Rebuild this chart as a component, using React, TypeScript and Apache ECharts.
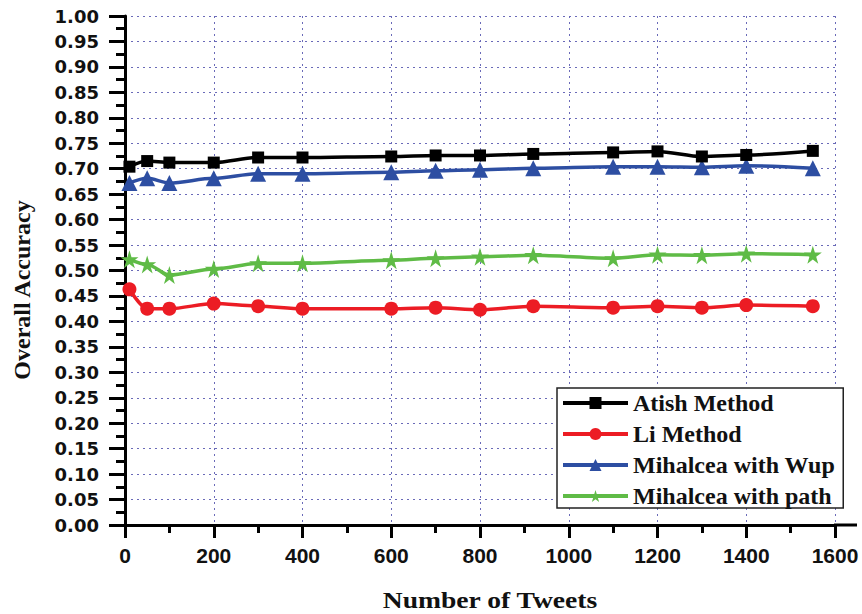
import React, { useEffect, useRef } from "react";
import * as echarts from "echarts";

const tweets = [10, 50, 100, 200, 300, 400, 600, 700, 800, 920, 1100, 1200, 1300, 1400, 1550];
const atish = [0.704, 0.715, 0.712, 0.712, 0.722, 0.722, 0.724, 0.726, 0.726, 0.729, 0.732, 0.734, 0.724, 0.727, 0.735];
const li = [0.463, 0.425, 0.425, 0.435, 0.43, 0.425, 0.425, 0.427, 0.423, 0.43, 0.427, 0.43, 0.427, 0.432, 0.43];
const wup = [0.672, 0.681, 0.672, 0.681, 0.69, 0.69, 0.693, 0.696, 0.698, 0.701, 0.704, 0.704, 0.703, 0.706, 0.701];
const path = [0.522, 0.512, 0.491, 0.503, 0.514, 0.514, 0.52, 0.524, 0.527, 0.53, 0.524, 0.531, 0.53, 0.533, 0.531];

const seriesNames = ["Atish Method", "Li Method", "Mihalcea with Wup", "Mihalcea with path"];
const seriesColors = ["#000000", "#ec1c24", "#2d4ea2", "#5fbb46"];
const seriesSymbols = ["rect", "circle", "triangle", "path://M50,0 L61,35 L98,35 L68,57 L79,92 L50,70 L21,92 L32,57 L2,35 L39,35 Z"];
const seriesSizes = [12, 14, 16, 18];
const seriesValues = [atish, li, wup, path];

const xTitle = "Number of Tweets";
const yTitle = "Overall Accuracy";

export default function App() {
  const ref = useRef<HTMLDivElement>(null);
  useEffect(() => {
    if (!ref.current) return;
    const chart = echarts.init(ref.current, null, { renderer: "svg" });
    const gridColor = "#6a6ab8";
    chart.setOption({
      animation: false,
      backgroundColor: "#ffffff",
      grid: { left: 125, right: 27, top: 16, bottom: 89, containLabel: false },
      xAxis: {
        type: "value",
        min: 0,
        max: 1600,
        interval: 200,
        axisLine: { show: true, onZero: false, lineStyle: { color: "#000", width: 3 } },
        axisTick: { show: true, length: 13, lineStyle: { color: "#000", width: 3 } },
        minorTick: { show: true, splitNumber: 2, length: 8, lineStyle: { color: "#000", width: 3 } },
        axisLabel: {
          margin: 20,
          fontFamily: "Liberation Sans",
          fontWeight: "bold",
          fontSize: 21,
          color: "#111",
          formatter: (v: number) => String(v),
        },
        splitLine: { show: true, lineStyle: { color: gridColor, width: 1, type: [2, 4] } },
      },
      yAxis: {
        type: "value",
        min: 0,
        max: 1,
        interval: 0.05,
        axisLine: { show: true, onZero: false, lineStyle: { color: "#000", width: 3 } },
        axisTick: { show: true, length: 16, lineStyle: { color: "#000", width: 3 } },
        minorTick: { show: true, splitNumber: 2, length: 9, lineStyle: { color: "#000", width: 3 } },
        axisLabel: {
          margin: 26,
          fontFamily: "DejaVu Sans",
          fontWeight: "bold",
          fontSize: 18,
          color: "#111",
          formatter: (v: number) => v.toFixed(2),
        },
        splitLine: { show: true, lineStyle: { color: gridColor, width: 1, type: [2, 4] } },
      },
      legend: {
        show: true,
        orient: "vertical",
        left: 557,
        top: 388,
        width: 289,
        padding: [3, 8, 0, 4],
        itemGap: 7,
        itemWidth: 65,
        itemHeight: 15,
        borderColor: "#222",
        borderWidth: 1.5,
        backgroundColor: "#fff",
        lineStyle: { width: 4 },
        textStyle: {
          fontFamily: "Liberation Serif",
          fontWeight: "bold",
          fontSize: 24,
          color: "#111",
        },
        data: seriesNames,
      },
      series: seriesNames.map((name, i) => ({
        name,
        type: "line",
        data: tweets.map((t, k) => [t, seriesValues[i][k]]),
        symbol: seriesSymbols[i],
        symbolSize: seriesSizes[i],
        smooth: 0.3,
        smoothMonotone: "x",
        itemStyle: { color: seriesColors[i] },
        lineStyle: { color: seriesColors[i], width: 3.5 },
        z: 10 - i,
      })),
      graphic: [
        {
          type: "line",
          shape: { x1: 834, y1: 525, x2: 857, y2: 525 },
          style: { stroke: "#000", lineWidth: 3 },
        },
        {
          type: "text",
          x: 22,
          y: 290,
          rotation: Math.PI / 2,
          style: {
            text: yTitle,
            fontFamily: "Liberation Serif",
            fontWeight: "bold",
            fontSize: 24,
            fill: "#111",
            textAlign: "center",
            textVerticalAlign: "middle",
          },
        },
        {
          type: "text",
          x: 490,
          y: 600,
          scaleX: 1.2,
          style: {
            text: xTitle,
            fontFamily: "Liberation Serif",
            fontWeight: "bold",
            fontSize: 23,
            fill: "#111",
            textAlign: "center",
            textVerticalAlign: "middle",
          },
        },
      ],
    });
    return () => chart.dispose();
  }, []);
  return (
    <div
      ref={ref}
      style={{ position: "fixed", left: 0, top: 0, width: 862, height: 614, background: "#fff" }}
    />
  );
}
